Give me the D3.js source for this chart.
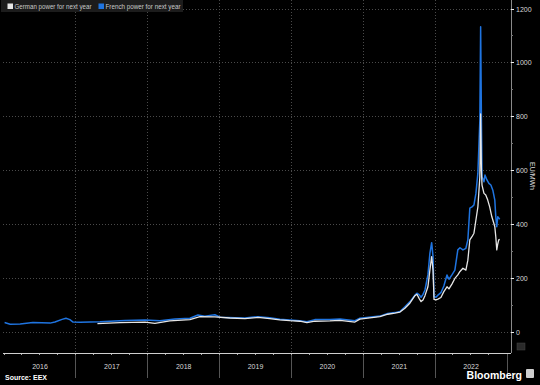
<!DOCTYPE html>
<html><head><meta charset="utf-8">
<script src="https://cdn.jsdelivr.net/npm/d3@7"></script>
<style>
html,body{margin:0;padding:0;background:#000;}
svg{display:block;}
</style></head>
<body>
<script>
// ---- Data (EUR/MWh, year-ahead baseload) ----
const frenchDates = ["2016-01-04","2016-02-01","2016-03-23","2016-05-27","2016-08-22","2016-09-16","2016-10-22","2016-11-11","2016-12-01","2016-12-17",
"2017-01-22","2017-05-03","2017-09-07","2017-12-18","2018-03-04","2018-05-19","2018-08-03","2018-09-13","2018-10-18","2018-12-08",
"2019-01-03","2019-03-20","2019-05-10","2019-07-15","2019-09-13","2019-11-03","2019-12-24","2020-02-13","2020-03-20","2020-04-29",
"2020-07-15","2020-09-04","2020-11-19","2020-12-14","2021-03-26","2021-05-05","2021-06-10","2021-07-06","2021-07-31","2021-08-26",
"2021-09-20","2021-09-30","2021-10-11","2021-10-21","2021-10-31","2021-11-10","2021-11-25","2021-12-05","2021-12-14","2021-12-21",
"2021-12-26","2022-01-05","2022-01-15","2022-01-30","2022-02-14","2022-03-02","2022-03-12","2022-03-27","2022-04-11","2022-04-26",
"2022-05-07","2022-05-22","2022-06-06","2022-06-16","2022-06-26","2022-07-07","2022-07-17","2022-07-27","2022-08-06","2022-08-16",
"2022-08-20","2022-08-24","2022-08-27","2022-09-06","2022-09-11","2022-09-21","2022-10-01","2022-10-11","2022-10-21","2022-10-31",
"2022-11-05","2022-11-10","2022-11-15","2022-11-25"];
const frenchValues = [35,29,30,35,33,37,47,51,46,37,
36,38,43,45,42,48,51,63,59,64,
55,53,52,57,53,47,45,42,38,46,
46,48,42,51,59,69,72,76,94,113,
137,144,139,129,140,156,212,292,332,280,
131,129,137,146,171,212,196,212,230,305,
313,305,311,342,460,465,472,515,590,787,
1134,787,577,558,583,565,552,546,527,490,
428,391,428,419];

const germanDates = ["2017-04-20","2017-08-12","2017-12-18","2018-02-06","2018-04-23","2018-08-03","2018-09-23","2018-12-08","2019-02-22","2019-05-10",
"2019-07-15","2019-09-13","2019-11-03","2019-12-24","2020-02-13","2020-03-20","2020-04-29","2020-07-15","2020-09-04","2020-11-19",
"2020-12-14","2021-03-26","2021-05-05","2021-06-10","2021-07-06","2021-07-31","2021-08-26","2021-09-20","2021-09-30","2021-10-11",
"2021-10-21","2021-10-31","2021-11-10","2021-11-25","2021-12-05","2021-12-14","2021-12-21","2021-12-26","2022-01-05","2022-01-15",
"2022-01-30","2022-02-14","2022-03-02","2022-03-12","2022-03-27","2022-04-11","2022-04-26","2022-05-07","2022-05-22","2022-06-06",
"2022-06-16","2022-06-26","2022-07-07","2022-07-17","2022-07-27","2022-08-06","2022-08-16","2022-08-20","2022-08-24","2022-08-27",
"2022-09-06","2022-09-15","2022-09-25","2022-10-05","2022-10-16","2022-10-26","2022-10-31","2022-11-05","2022-11-10","2022-11-15",
"2022-11-20","2022-11-25"];
const germanValues = [31,35,37,32,41,46,57,56,52,50,
54,50,45,42,40,35,40,41,43,37,
48,57,66,70,74,88,108,135,140,125,
113,119,135,168,230,280,230,121,119,122,
128,150,168,160,178,199,212,225,237,230,
267,342,354,367,416,465,577,810,600,546,
515,509,490,465,428,404,391,354,305,327,
342,344];

const yearLabels = ["2016","2017","2018","2019","2020","2021","2022"];
const yTicks = [0,200,400,600,800,1000,1200];
const seriesNames = ["German power for next year","French power for next year"];
const seriesColors = ["#e6e6e6","#1f74e0"];

// ---- Layout ----
const W = 540, H = 385;
const parse = d3.timeParse("%Y-%m-%d");
const x = d3.scaleTime().domain([new Date(2016,0,1), new Date(2023,0,1)]).range([4, 507]);
const y = d3.scaleLinear().domain([0,1200]).range([332, 9]);
const axisY = 353, rightX = 511;

const svg = d3.select("body").append("svg").attr("width", W).attr("height", H)
  .style("font-family", "'Liberation Sans', Arial, sans-serif");
svg.append("rect").attr("width", W).attr("height", H).attr("fill", "#000");

// horizontal gridlines
svg.append("g").selectAll("line").data(yTicks).join("line")
  .attr("x1", 3).attr("x2", rightX).attr("y1", d => y(d)).attr("y2", d => y(d))
  .attr("stroke", "#4a4a4a").attr("stroke-width", 1).attr("stroke-dasharray", "1,2")
  .attr("shape-rendering", "crispEdges");

// year boundaries
const yearStarts = yearLabels.map(s => new Date(+s, 0, 1)).concat([new Date(2023,0,1)]);
svg.append("g").selectAll("line").data(yearStarts.slice(1, -1)).join("line")
  .attr("x1", d => x(d)).attr("x2", d => x(d)).attr("y1", 0).attr("y2", axisY)
  .attr("stroke", "#4a4a4a").attr("stroke-dasharray", "1,2").attr("shape-rendering", "crispEdges");
svg.append("g").selectAll("line").data(yearStarts.slice(1)).join("line")
  .attr("x1", d => x(d)).attr("x2", d => x(d)).attr("y1", axisY).attr("y2", 378)
  .attr("stroke", "#555").attr("shape-rendering", "crispEdges");

// bottom axis
const quarters = d3.timeMonth.every(3).range(new Date(2016,0,1), new Date(2023,0,1));
svg.append("g").selectAll("line").data(quarters).join("line")
  .attr("x1", d => x(d)).attr("x2", d => x(d)).attr("y1", axisY).attr("y2", axisY + 2)
  .attr("stroke", "#aaa").attr("shape-rendering", "crispEdges");
svg.append("line").attr("x1", 3).attr("x2", rightX).attr("y1", axisY).attr("y2", axisY)
  .attr("stroke", "#cfcfcf").attr("stroke-width", 1).attr("shape-rendering", "crispEdges");
svg.append("g").selectAll("text").data(yearLabels).join("text")
  .attr("x", (d, i) => (x(yearStarts[i]) + x(yearStarts[i+1])) / 2)
  .attr("y", 369).attr("text-anchor", "middle")
  .attr("fill", "#d8d8d8").attr("font-size", 7).text(d => d);

// right axis
svg.append("line").attr("x1", rightX).attr("x2", rightX).attr("y1", 0).attr("y2", axisY)
  .attr("stroke", "#8a8a8a").attr("shape-rendering", "crispEdges");
const minor = d3.range(100, 1200, 200);
svg.append("g").selectAll("line").data(minor).join("line")
  .attr("x1", rightX).attr("x2", rightX + 2).attr("y1", d => y(d)).attr("y2", d => y(d))
  .attr("stroke", "#777").attr("shape-rendering", "crispEdges");
svg.append("g").selectAll("line").data(yTicks).join("line")
  .attr("x1", rightX).attr("x2", rightX + 3).attr("y1", d => y(d)).attr("y2", d => y(d))
  .attr("stroke", "#eee").attr("shape-rendering", "crispEdges");
svg.append("g").selectAll("text").data(yTicks).join("text")
  .attr("x", rightX + 5).attr("y", d => y(d) + 2.5)
  .attr("fill", "#d8d8d8").attr("font-size", 7).text(d => d);
svg.append("text").attr("transform", "translate(530,176) rotate(90)")
  .attr("text-anchor", "middle").attr("fill", "#d8d8d8").attr("font-size", 7)
  .text("EU/MWh");

// lines
const line = d3.line().x(d => x(d[0])).y(d => y(d[1]));
const french = frenchDates.map((d, i) => [parse(d), frenchValues[i]]);
const german = germanDates.map((d, i) => [parse(d), germanValues[i]]);
svg.append("path").datum(french).attr("d", line).attr("fill", "none")
  .attr("stroke", seriesColors[1]).attr("stroke-width", 1.5).attr("stroke-linejoin", "round");
svg.append("path").datum(german).attr("d", line).attr("fill", "none")
  .attr("stroke", seriesColors[0]).attr("stroke-width", 1.3).attr("stroke-linejoin", "round");

// legend
svg.append("rect").attr("x", 1).attr("y", 0).attr("width", 182).attr("height", 12).attr("fill", "#1c1c1c");
const lx = [7.5, 98.5];
const lw = [77, 75];
seriesNames.forEach((n, i) => {
  svg.append("rect").attr("x", lx[i]).attr("y", 3.5).attr("width", 5.5).attr("height", 5.5)
    .attr("fill", seriesColors[i]);
  svg.append("text").attr("x", lx[i] + 7).attr("y", 8.8).attr("fill", "#c8c8c8")
    .attr("font-size", 6.4).attr("textLength", lw[i]).attr("lengthAdjust", "spacingAndGlyphs").text(n);
});

// footer
svg.append("text").attr("x", 5).attr("y", 380).attr("fill", "#fff").attr("font-size", 7)
  .attr("font-weight", "bold").text("Source: EEX");
svg.append("text").attr("x", 522).attr("y", 378.5).attr("text-anchor", "end").attr("fill", "#fff")
  .attr("font-size", 10.5).attr("font-weight", "bold").text("Bloomberg");
svg.append("rect").attr("x", 526).attr("y", 369).attr("width", 8).attr("height", 9).attr("rx", 1).attr("fill", "#cfcfcf");
svg.append("rect").attr("x", 517).attr("y", 343).attr("width", 8).attr("height", 7).attr("fill", "#2a2a2a").attr("stroke", "#444").attr("stroke-width", 0.5);
</script>
</body></html>
